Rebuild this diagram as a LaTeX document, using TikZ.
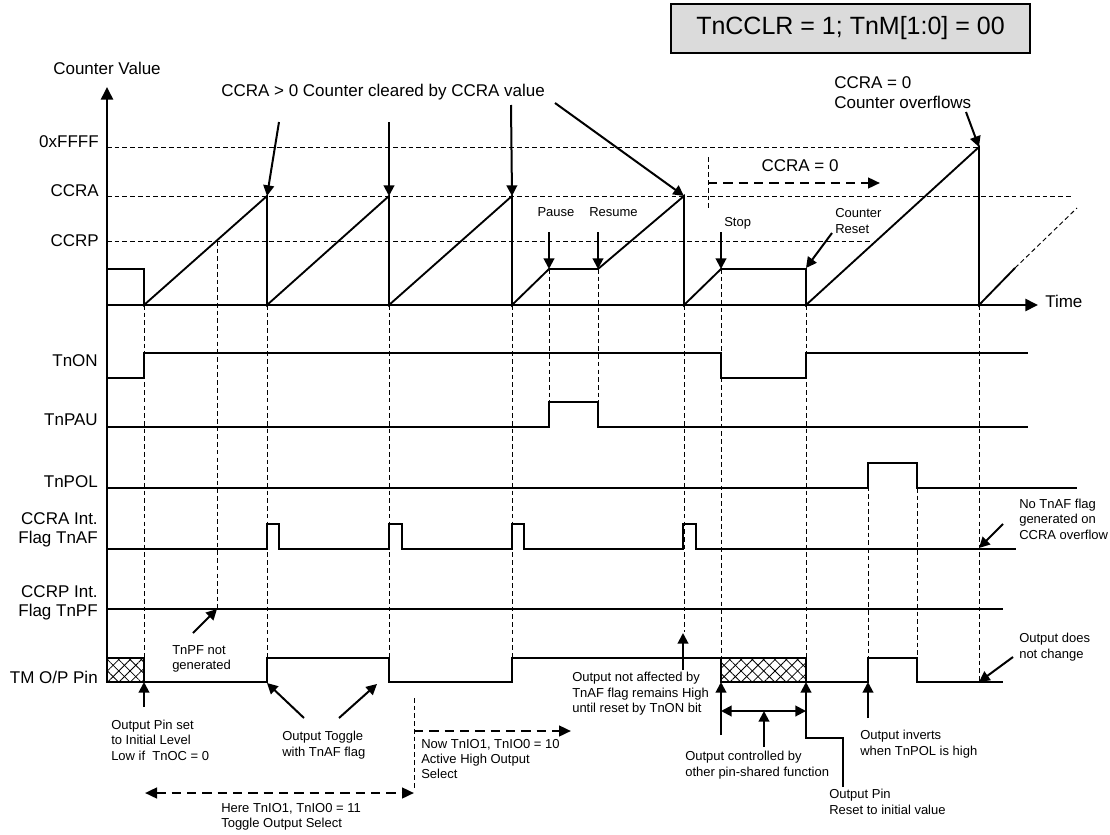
\documentclass[tikz,border=0pt]{standalone}
\usepackage{fontspec}
\setmainfont{Liberation Sans}
\usetikzlibrary{arrows.meta,patterns.meta}
\begin{document}
\begin{tikzpicture}[x=0.75pt,y=-0.75pt,
  big/.style={font=\fontsize{12.75}{15}\selectfont, inner sep=0pt, align=right},
  sml/.style={font=\fontsize{9.75}{11.6}\selectfont, inner sep=0pt, align=left},
  grid/.style={line width=0.7pt, dash pattern=on 3.5pt off 2.3pt},
  wave/.style={line width=1.4pt, line join=miter},
  sig/.style={line width=1.2pt, line join=miter},
  axis/.style={line width=1.9pt, -{Triangle[length=9.5pt,width=9pt]}},
  arr/.style={line width=1.5pt, -{Triangle[length=8pt,width=8pt]}},
  dline/.style={line width=1.8pt, dash pattern=on 7pt off 4.5pt},
  hatchbox/.style={draw, line width=1.2pt,
     pattern={Lines[angle=45,distance=6pt,line width=0.6pt]},
     postaction={pattern={Lines[angle=-45,distance=6pt,line width=0.6pt]}}}
]
\useasboundingbox (0,0) rectangle (1110,835);

% title
\node[draw, line width=1.1pt, fill=black!14, minimum width=269pt, minimum height=36.75pt,
      font=\fontsize{18.75}{22}\selectfont, inner sep=0pt] (title) at (850.5,28.5) {TnCCLR = 1; TnM[1:0] = 00};

% axes
\coordinate (ybot) at (107,657);
\coordinate (ytop) at (107,87);
\coordinate (xo) at (107,305);
\coordinate (xend) at (1038,305);
\draw[axis] (ybot) -- (ytop);
\draw[axis] (xo) -- (xend);
\node[big] (cv) at (107,68) {Counter Value};
\node[big, anchor=west] (time) at (1045,301) {Time};

% reference levels
\node[big, anchor=east] (lF) at (99,142) {0xFFFF};
\node[big, anchor=east] (lA) at (99,191) {CCRA};
\node[big, anchor=east] (lP) at (99,241) {CCRP};
\draw[grid] (107,147) -- (979,147);
\draw[grid] (107,196) -- (1073,196);
\draw[grid] (107,241) -- (870,241);

% counter waveform
\draw[wave] (107,269) -- (144,269) -- (144,305) -- (267,196) -- (267,305) -- (389,196) -- (389,305)
  -- (512,196) -- (512,305) -- (549,269) -- (598,269) -- (684,196) -- (684,305) -- (721,269)
  -- (806,269) -- (806,305) -- (979,147) -- (979,305) -- (1015,268);
\draw[grid] (1015,268) -- (1077,208);

% event lines
\foreach \x/\a/\b in {144/305/657, 217/241/609, 267/305/658, 389/305/658, 512/305/658,
   549/269/402, 598/269/402, 684/305/632, 721/269/658, 806/305/658, 868/463/658,
   917/488/658, 979/305/682, 708/157/208, 414/698/790}
  \draw[grid] (\x,\a) -- (\x,\b);

% signal labels
\node[big, anchor=east] (sON) at (98,361) {TnON};
\node[big, anchor=east] (sPAU) at (98,420) {TnPAU};
\node[big, anchor=east] (sPOL) at (98,482) {TnPOL};
\node[big, anchor=east, font=\fontsize{12.75}{14.25}\selectfont] (sAF) at (98,530) {CCRA Int.\\Flag TnAF};
\node[big, anchor=east, font=\fontsize{12.75}{14.25}\selectfont] (sPF) at (98,603) {CCRP Int.\\Flag TnPF};
\node[big, anchor=east] (sTM) at (98,677) {TM O/P Pin};

% signals
\draw[sig] (107,378) -- (144,378) -- (144,353) -- (721,353) -- (721,378) -- (806,378) -- (806,353) -- (1028,353);
\draw[sig] (107,427) -- (549,427) -- (549,402) -- (598,402) -- (598,427) -- (1028,427);
\draw[sig] (107,488) -- (868,488) -- (868,463) -- (917,463) -- (917,488) -- (1077,488);
\draw[sig] (107,549) -- (267,549) -- (267,524) -- (279,524) -- (279,549) -- (389,549) -- (389,524)
  -- (402,524) -- (402,549) -- (512,549) -- (512,524) -- (524,524) -- (524,549) -- (683,549)
  -- (683,524) -- (696,524) -- (696,549) -- (1016,549);
\draw[sig] (107,609) -- (1003,609);
\draw[sig] (144,682) -- (267,682) -- (267,658) -- (389,658) -- (389,682) -- (512,682) -- (512,658) -- (721,658);
\draw[sig] (806,682) -- (868,682) -- (868,658) -- (917,658) -- (917,682) -- (1003,682);
\path[hatchbox] (107,658) rectangle (144,682);
\path[hatchbox] (721,658) rectangle (806,682);

% top annotations
\node[big, anchor=west] (clr) at (221,92) {CCRA > 0 Counter cleared by CCRA value};
\coordinate (c1s) at (279,122); \coordinate (c1e) at (267,196);
\coordinate (c2s) at (389,122); \coordinate (c2e) at (389,196);
\coordinate (c3s) at (511,105); \coordinate (c3e) at (512,196);
\coordinate (c4s) at (555,103); \coordinate (c4e) at (684,196);
\draw[arr] (c1s) -- (c1e);
\draw[arr] (c2s) -- (c2e);
\draw[arr] (c3s) -- (c3e);
\draw[arr] (c4s) -- (c4e);

\node[big, anchor=west, align=left, font=\fontsize{12.75}{15}\selectfont] (ovf) at (834,93) {CCRA = 0\\Counter overflows};
\coordinate (ovs) at (966,112); \coordinate (ove) at (979,147);
\draw[arr] (ovs) -- (ove);

\node[big] (cz) at (800,166) {CCRA = 0};
\coordinate (czs) at (708,183); \coordinate (cze) at (880,183);
\draw[dline, -{Triangle[length=9pt,width=8pt]}] (czs) -- (cze);

\node[sml] (pause) at (556,212) {Pause};
\node[sml, anchor=west] (resume) at (589,212) {Resume};
\node[sml, anchor=west] (stop) at (724,223) {Stop};
\node[sml, anchor=west] (creset) at (835,221) {Counter\\Reset};
\coordinate (pa) at (549,232); \coordinate (pb) at (549,269);
\coordinate (ra) at (598,232); \coordinate (rb) at (598,269);
\coordinate (sa) at (721,232); \coordinate (sb) at (721,269);
\coordinate (cra) at (832,233); \coordinate (crb) at (806,268);
\draw[arr] (pa) -- (pb);
\draw[arr] (ra) -- (rb);
\draw[arr] (sa) -- (sb);
\draw[arr] (cra) -- (crb);

% right annotations
\node[sml, anchor=west] (noaf) at (1019,519) {No TnAF flag\\generated on\\CCRA overflow};
\coordinate (nas) at (1003,524); \coordinate (nae) at (979,548);
\draw[arr] (nas) -- (nae);
\node[sml, anchor=west] (nochg) at (1019,647) {Output does\\not change};
\coordinate (ncs) at (1013,657); \coordinate (nce) at (979,682);
\draw[arr] (ncs) -- (nce);

% bottom annotations
\node[sml, anchor=west] (tnpf) at (172,659) {TnPF not\\generated};
\coordinate (tps) at (193,633); \coordinate (tpe) at (217,609);
\draw[arr] (tps) -- (tpe);

\node[sml, anchor=west] (init) at (111,740) {Output Pin set\\to Initial Level\\Low if~~TnOC = 0};
\coordinate (ins) at (144,707); \coordinate (ine) at (144,682);
\draw[arr] (ins) -- (ine);

\node[sml, anchor=west] (tog) at (282,745) {Output Toggle\\with TnAF flag};
\coordinate (t1s) at (304,718); \coordinate (t1e) at (267,683);
\coordinate (t2s) at (339,718); \coordinate (t2e) at (377,684);
\draw[arr] (t1s) -- (t1e);
\draw[arr] (t2s) -- (t2e);

\node[sml, anchor=west] (now) at (421,759) {Now TnIO1, TnIO0 = 10\\Active High Output\\Select};
\coordinate (nws) at (414,731); \coordinate (nwe) at (571,731);
\draw[dline, -{Triangle[length=9pt,width=8pt]}] (nws) -- (nwe);

\node[sml, anchor=west] (here) at (221,817) {Here TnIO1, TnIO0 = 11\\Toggle Output Select};
\coordinate (hs) at (145,793); \coordinate (he) at (414,793);
\draw[dline, {Triangle[length=9pt,width=8pt]}-{Triangle[length=9pt,width=8pt]}] (hs) -- (he);

\node[sml, anchor=west] (naff) at (572,694) {Output not affected by\\TnAF flag remains High\\until reset by TnON bit};
\coordinate (nfs) at (683,670); \coordinate (nfe) at (683,633);
\draw[arr] (nfs) -- (nfe);

\coordinate (o1s) at (721,735); \coordinate (o1e) at (721,682);
\draw[arr] (o1s) -- (o1e);
\coordinate (dl) at (721,711); \coordinate (dr) at (806,711);
\draw[line width=1.5pt, {Triangle[length=8pt,width=8pt]}-{Triangle[length=8pt,width=8pt]}] (dl) -- (dr);
\coordinate (ocs) at (764,747); \coordinate (oce) at (764,711);
\draw[arr] (ocs) -- (oce);
\node[sml, anchor=west] (ctrl) at (685,765) {Output controlled by\\other pin-shared function};

\coordinate (rps) at (843,787); \coordinate (rpe) at (806,682);
\draw[arr] (rps) -- (843,738) -- (806,738) -- (rpe);
\node[sml, anchor=west] (rpin) at (829,802) {Output Pin\\Reset to initial value};

\coordinate (ivs) at (868,718); \coordinate (ive) at (868,682);
\draw[arr] (ivs) -- (ive);
\node[sml, anchor=west] (inv) at (860,744) {Output inverts\\when TnPOL is high};

\end{tikzpicture}
\end{document}
